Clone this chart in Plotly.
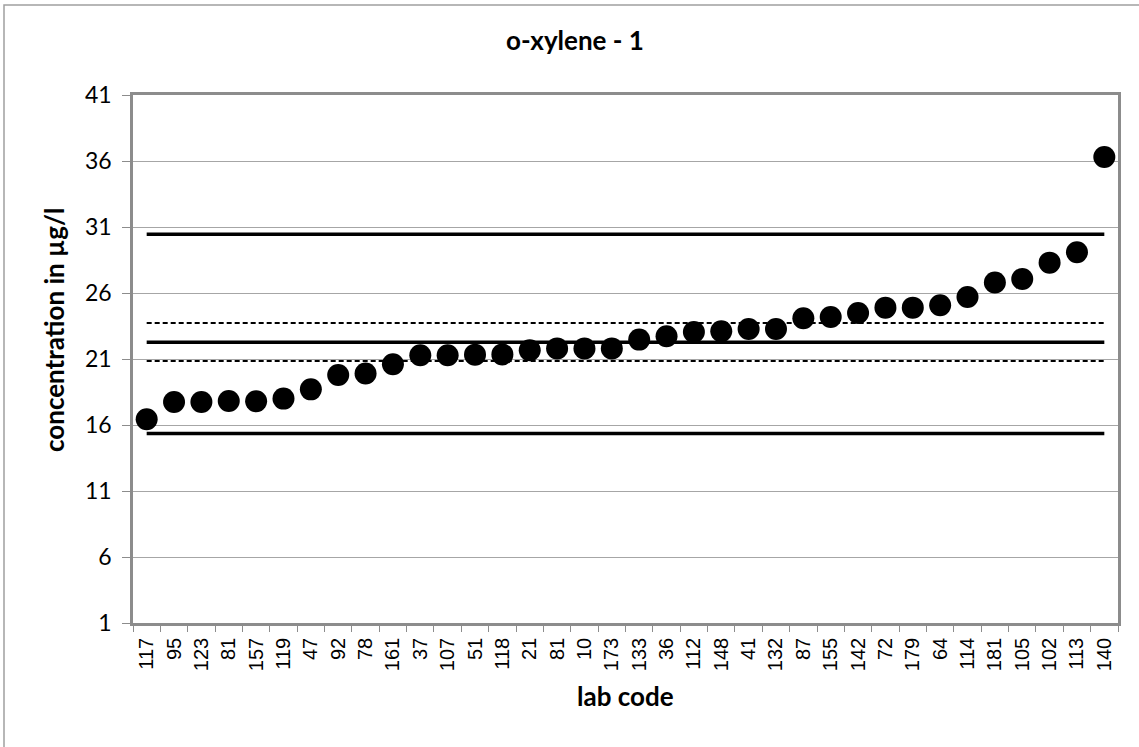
import plotly.graph_objects as go

lab_codes = ["117", "95", "123", "81", "157", "119", "47", "92", "78", "161",
             "37", "107", "51", "118", "21", "81", "10", "173", "133", "36",
             "112", "148", "41", "132", "87", "155", "142", "72", "179", "64",
             "114", "181", "105", "102", "113", "140"]
concentrations = [16.43, 17.74, 17.74, 17.82, 17.8, 18.0, 18.7, 19.79, 19.9, 20.6,
                  21.28, 21.28, 21.33, 21.35, 21.66, 21.79, 21.79, 21.79, 22.47, 22.72,
                  23.05, 23.1, 23.27, 23.27, 24.08, 24.18, 24.48, 24.89, 24.89, 25.07,
                  25.7, 26.8, 27.06, 28.3, 29.09, 36.3]
assigned_value = 22.27
upper_limit = 30.45
lower_limit = 15.35
upper_uncertainty = 23.73
lower_uncertainty = 20.85
y_ticks = [1, 6, 11, 16, 21, 26, 31, 36, 41]

positions = list(range(len(lab_codes)))
ends = [positions[0], positions[-1]]

FONT = "Lato, Open Sans, sans-serif"

fig = go.Figure()
for val, width, dash in [(upper_limit, 3.5, "solid"), (assigned_value, 3.5, "solid"),
                         (lower_limit, 3.5, "solid"), (upper_uncertainty, 2, "5px,3px"),
                         (lower_uncertainty, 2, "5px,3px")]:
    fig.add_trace(go.Scatter(x=ends, y=[val, val], mode="lines",
                             line=dict(color="black", width=width, dash=dash),
                             showlegend=False, hoverinfo="skip"))

fig.add_trace(go.Scatter(x=positions, y=concentrations, mode="markers",
                         marker=dict(color="black", size=22),
                         showlegend=False))

fig.update_layout(
    width=1139, height=747,
    paper_bgcolor="white", plot_bgcolor="white",
    margin=dict(l=133, r=21, t=95, b=124),
    title=dict(text="<b>o-xylene - 1</b>", x=575/1139, xref="container", xanchor="center",
               y=1-41/747, yref="container", yanchor="middle",
               font=dict(family=FONT, size=26, color="black")),
    xaxis=dict(range=[-0.5, len(lab_codes) - 0.5], tickmode="array", tickvals=positions,
               ticktext=lab_codes, tickangle=-90, ticks="", showgrid=False, zeroline=False,
               showline=True, linecolor="#8c8c8c", linewidth=2.5, mirror=True,
               ticklabelstandoff=4,
               tickfont=dict(family="Liberation Sans, Arial, sans-serif", size=20, color="black"),
               minor=dict(tickvals=[p - 0.5 for p in positions] + [positions[-1] + 0.5],
                          ticks="outside", ticklen=6, tickcolor="#8c8c8c", tickwidth=1, showgrid=False)),
    yaxis=dict(range=[1, 41], tickmode="array", tickvals=y_ticks, ticks="outside", ticklen=8,
               tickcolor="#8c8c8c", showgrid=True, gridcolor="#a6a6a6", gridwidth=1,
               zeroline=False, showline=True, linecolor="#8c8c8c", linewidth=2.5, mirror=True,
               ticklabelstandoff=6,
               tickfont=dict(family=FONT, size=23, color="black")),
    annotations=[
        dict(text="<b>concentration in µg/l</b>", xref="paper", yref="paper",
             x=(54 - 133) / 985, y=(623 - 330) / 528, textangle=-90, showarrow=False,
             xanchor="center", yanchor="middle",
             font=dict(family=FONT, size=26, color="black")),
        dict(text="<b>lab code</b>", xref="paper", yref="paper",
             x=(625 - 133) / 985, y=(623 - 696) / 528, showarrow=False,
             xanchor="center", yanchor="middle",
             font=dict(family=FONT, size=26, color="black")),
    ],
    shapes=[dict(type="rect", xref="paper", yref="paper",
                 x0=(4 - 133) / 985, x1=1.05, y0=-0.3, y1=1 + (95 - 5) / 528,
                 line=dict(color="#a0a0a0", width=1.5), fillcolor="rgba(0,0,0,0)", layer="below")],
)

fig.write_html("out.html", config={"displayModeBar": False},
               post_script="document.body.style.margin='0';document.body.style.overflow='hidden';")
